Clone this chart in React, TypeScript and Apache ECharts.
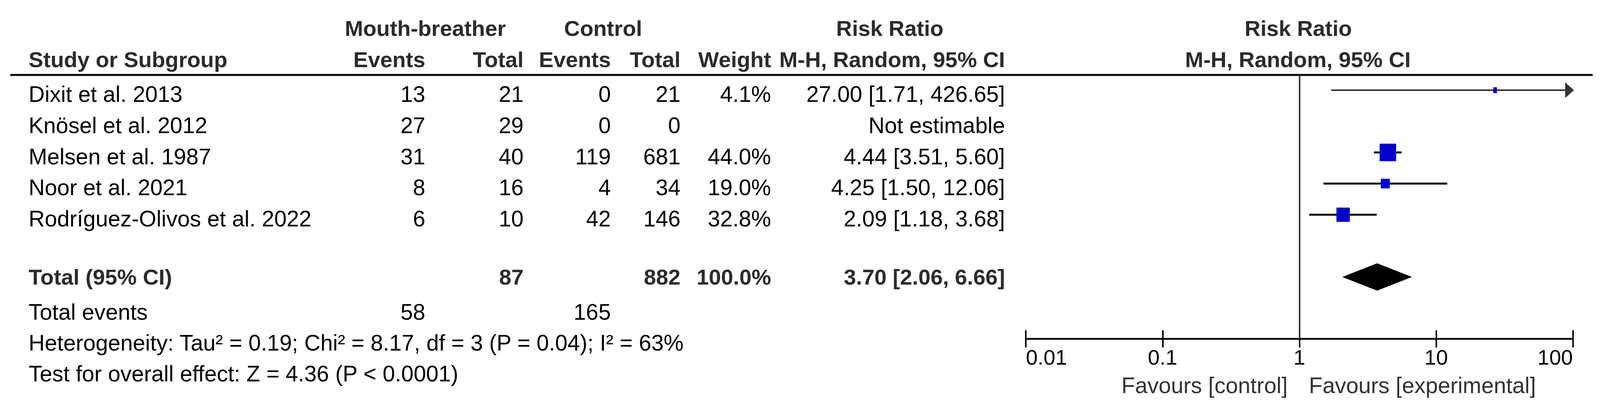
import React, { useEffect, useRef } from "react";
import * as echarts from "echarts";

// ---------- data ----------
const studies = [
  "Dixit et al. 2013",
  "Knösel et al. 2012",
  "Melsen et al. 1987",
  "Noor et al. 2021",
  "Rodríguez-Olivos et al. 2022",
];
const expEvents = [13, 27, 31, 8, 6];
const expTotal = [21, 29, 40, 16, 10];
const ctrlEvents = [0, 0, 119, 4, 42];
const ctrlTotal = [21, 0, 681, 34, 146];
const weights: (number | null)[] = [4.1, null, 44.0, 19.0, 32.8];
const riskRatio: (number | null)[] = [27.0, null, 4.44, 4.25, 2.09];
const ciLower: (number | null)[] = [1.71, null, 3.51, 1.5, 1.18];
const ciUpper: (number | null)[] = [426.65, null, 5.6, 12.06, 3.68];

const pooledLabel = "Total (95% CI)";
const pooledExpTotal = 87;
const pooledCtrlTotal = 882;
const pooledWeight = 100.0;
const pooledRR = 3.7;
const pooledLower = 2.06;
const pooledUpper = 6.66;

const totalEventsLabel = "Total events";
const totalEvents = [58, 165];
const heterogeneityText =
  "Heterogeneity: Tau² = 0.19; Chi² = 8.17, df = 3 (P = 0.04); I² = 63%";
const overallEffectText = "Test for overall effect: Z = 4.36 (P < 0.0001)";

const tickLabels = ["0.01", "0.1", "1", "10", "100"];
const favoursLabels = ["Favours [control]", "Favours [experimental]"];
const groupHeaders = ["Mouth-breather", "Control"];
const columnHeaders = ["Study or Subgroup", "Events", "Total", "Events", "Total", "Weight", "M-H, Random, 95% CI"];
const effectHeader = "Risk Ratio";

// ---------- layout (reference pixels, 4364 x 1040) ----------
const REF_W = 4364;
const REF_H = 1040;
const FONT = '"Liberation Sans", Arial, Helvetica, sans-serif';
const REG = 59;
const BOLD = 58;
const LEFT_X = 78;
const COL_RIGHT = [1160, 1428, 1666, 1856, 2103, 2741];
const HEAD1_Y = 72;
const HEAD2_Y = 152;
const ROW0_Y = 241;
const ROW_STEP = 79.75;
const TOTAL_Y = 709;
const EVENTS_Y = 799;
const HET_Y = 878;
const TEST_Y = 957;
const PLOT_LEFT = 2798;
const PLOT_RIGHT = 4290;
const PLOT_TOP = 192;
const AXIS_Y = 868;
const MARKER_ROW0 = 231;
const POOLED_ROW = 6;
const AXIS_MAX = 100;

const fmt2 = (v: number) => v.toFixed(2);
const ciText = (e: number, l: number, u: number) => `${fmt2(e)} [${fmt2(l)}, ${fmt2(u)}]`;

export default function App() {
  const ref = useRef<HTMLDivElement>(null);

  useEffect(() => {
    if (!ref.current) return;
    const chart = echarts.init(ref.current, undefined, { renderer: "svg" });
    const cw = chart.getWidth();
    const ch = chart.getHeight();
    const sx = cw / REF_W;
    const sy = ch / REF_H;
    const sf = Math.sqrt(sx * sy);
    const X = (v: number) => v * sx;
    const Y = (v: number) => v * sy;
    const F = (v: number) => v * sf;

    const txt = (
      text: string,
      x: number,
      y: number,
      align: "left" | "right" | "center",
      bold = false,
      fill = "#000"
    ) => ({
      type: "text",
      x: X(x),
      y: Y(y),
      silent: true,
      style: {
        text,
        fill: bold ? "#2b2b2b" : fill,
        fontFamily: FONT,
        fontSize: F(bold ? BOLD : REG),
        fontWeight: bold ? "bold" : "normal",
        align,
        verticalAlign: "middle",
      },
    });

    const graphics: any[] = [];
    graphics.push(txt(groupHeaders[0], 1160, HEAD1_Y, "center", true));
    graphics.push(txt(groupHeaders[1], 1645, HEAD1_Y, "center", true));
    graphics.push(txt(effectHeader, 2427, HEAD1_Y, "center", true));
    graphics.push(txt(effectHeader, 3541, HEAD1_Y, "center", true));
    graphics.push(txt(columnHeaders[0], LEFT_X, HEAD2_Y, "left", true));
    for (let c = 1; c < columnHeaders.length; c++) {
      graphics.push(txt(columnHeaders[c], COL_RIGHT[c - 1], HEAD2_Y, "right", true));
    }
    graphics.push(txt(columnHeaders[6], 3540, HEAD2_Y, "center", true));
    graphics.push({
      type: "line",
      silent: true,
      shape: { x1: X(28), y1: Y(PLOT_TOP), x2: X(4344), y2: Y(PLOT_TOP) },
      style: { stroke: "#000", lineWidth: F(5) },
    });
    studies.forEach((name, i) => {
      const y = ROW0_Y + ROW_STEP * i;
      graphics.push(txt(name, LEFT_X, y, "left"));
      graphics.push(txt(String(expEvents[i]), COL_RIGHT[0], y, "right"));
      graphics.push(txt(String(expTotal[i]), COL_RIGHT[1], y, "right"));
      graphics.push(txt(String(ctrlEvents[i]), COL_RIGHT[2], y, "right"));
      graphics.push(txt(String(ctrlTotal[i]), COL_RIGHT[3], y, "right"));
      const w = weights[i];
      if (w != null) graphics.push(txt(`${w.toFixed(1)}%`, COL_RIGHT[4], y, "right"));
      const e = riskRatio[i];
      const l = ciLower[i];
      const u = ciUpper[i];
      graphics.push(
        txt(e != null && l != null && u != null ? ciText(e, l, u) : "Not estimable", COL_RIGHT[5], y, "right")
      );
    });
    graphics.push(txt(pooledLabel, LEFT_X, TOTAL_Y, "left", true));
    graphics.push(txt(String(pooledExpTotal), COL_RIGHT[1], TOTAL_Y, "right", true));
    graphics.push(txt(String(pooledCtrlTotal), COL_RIGHT[3], TOTAL_Y, "right", true));
    graphics.push(txt(`${pooledWeight.toFixed(1)}%`, COL_RIGHT[4], TOTAL_Y, "right", true));
    graphics.push(txt(ciText(pooledRR, pooledLower, pooledUpper), COL_RIGHT[5], TOTAL_Y, "right", true));
    graphics.push(txt(totalEventsLabel, LEFT_X, EVENTS_Y, "left"));
    graphics.push(txt(String(totalEvents[0]), COL_RIGHT[0], EVENTS_Y, "right"));
    graphics.push(txt(String(totalEvents[1]), COL_RIGHT[2], EVENTS_Y, "right"));
    graphics.push(txt(heterogeneityText, LEFT_X, HET_Y, "left"));
    graphics.push(txt(overallEffectText, LEFT_X, TEST_Y, "left"));
    graphics.push(txt(favoursLabels[0], 3512, 987, "right", false, "#333"));
    graphics.push(txt(favoursLabels[1], 3570, 987, "left", false, "#333"));

    const studyData: number[][] = [];
    studies.forEach((_, i) => {
      const e = riskRatio[i];
      const l = ciLower[i];
      const u = ciUpper[i];
      const w = weights[i];
      if (e != null && l != null && u != null && w != null) studyData.push([e, l, u, i, w]);
    });

    const yMin = -(MARKER_ROW0 - PLOT_TOP) / ROW_STEP;
    const yMax = (AXIS_Y - MARKER_ROW0) / ROW_STEP;

    const labelFor = (v: number) => {
      const hit = tickLabels.find((t) => Math.abs(Math.log10(parseFloat(t)) - Math.log10(v)) < 1e-6);
      return hit ?? "";
    };

    const baseX = {
      type: "log",
      logBase: 10,
      min: 0.01,
      max: AXIS_MAX,
      position: "bottom",
      splitLine: { show: false },
      minorTick: { show: false },
      minorSplitLine: { show: false },
    };

    chart.setOption({
      animation: false,
      backgroundColor: "#ffffff",
      grid: {
        left: X(PLOT_LEFT),
        right: cw - X(PLOT_RIGHT),
        top: Y(PLOT_TOP),
        bottom: ch - Y(AXIS_Y),
        containLabel: false,
      },
      xAxis: [
        {
          ...baseX,
          axisLine: { show: true, onZero: false, lineStyle: { color: "#000", width: F(4.5) } },
          axisTick: { show: true, inside: false, length: Y(22), lineStyle: { color: "#000", width: F(4) } },
          axisLabel: {
            show: true,
            margin: Y(20),
            fontSize: F(56),
            fontFamily: FONT,
            color: "#000",
            formatter: (v: number) => labelFor(v),
            alignMinLabel: "left",
            alignMaxLabel: "right",
          },
        },
        {
          ...baseX,
          axisLine: { show: false, onZero: false },
          axisTick: { show: true, inside: true, length: Y(22), lineStyle: { color: "#000", width: F(4) } },
          axisLabel: { show: false },
        },
      ],
      yAxis: { type: "value", inverse: true, min: yMin, max: yMax, show: false },
      graphic: graphics,
      series: [
        {
          type: "custom",
          name: "studies",
          clip: false,
          silent: true,
          encode: { x: [0, 1, 2], y: 3 },
          data: studyData,
          renderItem: (_p: any, api: any) => {
            const est = api.value(0);
            const lo = api.value(1);
            const hi = api.value(2);
            const row = api.value(3);
            const w = api.value(4);
            const clipped = hi > AXIS_MAX;
            const pLo = api.coord([lo, row]);
            const pHi = api.coord([Math.min(hi, AXIS_MAX), row]);
            const pE = api.coord([est, row]);
            const s = 45 * Math.pow(w / 44, 0.72);
            const bw = X(Math.max(s, 10));
            const bh = Y(Math.max(s, 15));
            const tipX = pHi[0] + X(3);
            const children: any[] = [
              {
                type: "line",
                shape: { x1: pLo[0], y1: pLo[1], x2: clipped ? tipX - X(20) : pHi[0], y2: pHi[1] },
                style: { stroke: clipped ? "#333" : "#000", lineWidth: F(clipped ? 4 : 5) },
              },
            ];
            if (clipped) {
              children.push({
                type: "polygon",
                shape: {
                  points: [
                    [tipX - X(24), pE[1] - Y(20)],
                    [tipX, pE[1]],
                    [tipX - X(24), pE[1] + Y(20)],
                  ],
                },
                style: { fill: "#333" },
              });
            }
            children.push({
              type: "rect",
              shape: { x: pE[0] - bw / 2, y: pE[1] - bh / 2, width: bw, height: bh },
              style: { fill: "#0000CC" },
            });
            return { type: "group", children };
          },
        },
        {
          type: "custom",
          name: "pooled",
          clip: false,
          silent: true,
          encode: { x: [0, 1, 2], y: 3 },
          data: [[pooledRR, pooledLower, pooledUpper, POOLED_ROW]],
          renderItem: (_p: any, api: any) => {
            const row = api.value(3);
            const pE = api.coord([api.value(0), row]);
            const pL = api.coord([api.value(1), row]);
            const pU = api.coord([api.value(2), row]);
            const hh = Y(35);
            return {
              type: "polygon",
              shape: {
                points: [
                  [pL[0], pE[1]],
                  [pE[0], pE[1] - hh],
                  [pU[0], pE[1]],
                  [pE[0], pE[1] + hh],
                ],
              },
              style: { fill: "#000" },
            };
          },
          markLine: {
            silent: true,
            symbol: "none",
            label: { show: false },
            lineStyle: { color: "#333", width: F(4), type: "solid" },
            data: [{ xAxis: 1 }],
          },
        },
      ],
    });

    return () => chart.dispose();
  }, []);

  return (
    <div
      ref={ref}
      style={{ position: "fixed", left: 0, top: 0, width: "100vw", height: "100vh", background: "#fff" }}
    />
  );
}
